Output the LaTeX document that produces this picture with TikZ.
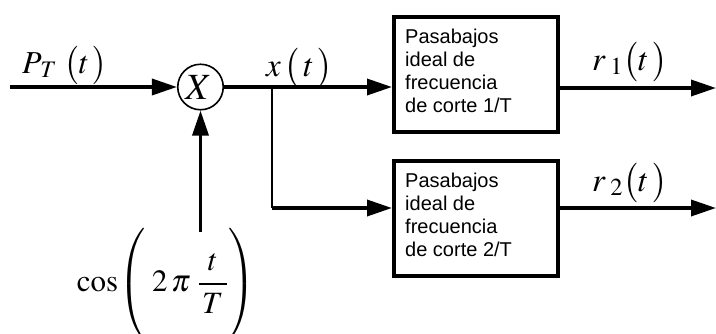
\documentclass[tikz,border=0pt]{standalone}
\usepackage{amsmath}
\usepackage{mathptmx}
\usepackage{fontspec}
\setmainfont{Liberation Serif}
\newfontfamily\boxfont{Liberation Sans}
\usetikzlibrary{arrows.meta}
\begin{document}
\begin{tikzpicture}[x=1pt,y=-1pt,
  sig/.style={line width=3.5pt, -{Triangle[length=25pt,width=16pt]}},
  thinsig/.style={line width=2pt},
  fbox/.style={draw, line width=4pt, minimum width=164pt, minimum height=115pt, inner sep=0pt},
  ftext/.style={anchor=base west, inner sep=0pt, font=\boxfont\fontsize{20}{23}\selectfont},
  mlabel/.style={anchor=base west, inner sep=0pt, font=\fontsize{33}{36}\selectfont},
  multnode/.style={circle, draw, line width=1.6pt, minimum size=45.5pt, inner sep=0pt, font=\fontsize{37}{39}\selectfont},
]
\useasboundingbox (0,0) rectangle (716,333);

% blocks
\node[multnode] (mult) at (200.5,87) {$X\mkern2mu$};
\node[fbox] (f1) at (476,74.5) {};
\node[fbox] (f2) at (476,218.5) {};
\node[ftext] (f1t) at (405,43) {\parbox[t]{150pt}{\raggedright Pasabajos\\ideal de\\frecuencia\\de corte 1/T}};
\node[ftext] (f2t) at (405,187) {\parbox[t]{150pt}{\raggedright Pasabajos\\ideal de\\frecuencia\\de corte 2/T}};

% labels
\node[mlabel, font=\fontsize{32}{35}\selectfont] (lp) at (22,73) {$P_{\mkern2mu T}\;\bigl(t\,\bigr)$};
\node[mlabel] (lx) at (266,76) {$x\,\bigl(\,t\,\bigr)$};
\node[mlabel] (lr1) at (592,70) {$r_{\mkern4mu 1}\bigl(t\,\bigr)$};
\node[mlabel] (lr2) at (592,191) {$r_{\mkern4mu 2}\bigl(t\,\bigr)$};
\node[inner sep=0pt, font=\fontsize{31}{34}\selectfont] (lc) at (166,284)
  {$\cos\!\left(\rule[-45pt]{0pt}{100pt}\;2\,\pi\;\dfrac{\,t\,}{\,T\,}\right)$};

% coordinates
\coordinate (in) at (10,87);
\coordinate (br) at (272,87);
\coordinate (b2) at (272,208);
\coordinate (o1) at (716,88);
\coordinate (o2) at (716,208);
\coordinate (cs) at (200.5,232);

% connectors
\draw[sig] (in) -- (mult.west);
\draw[sig] (mult.east) -- (mult.east -| f1.west);
\draw[thinsig] (br) -- (b2);
\draw[sig] (b2) -- (b2 -| f2.west);
\draw[sig] (f1.east |- o1) -- (o1);
\draw[sig] (f2.east |- o2) -- (o2);
\draw[sig] (cs) -- (mult.south);
\end{tikzpicture}
\end{document}
